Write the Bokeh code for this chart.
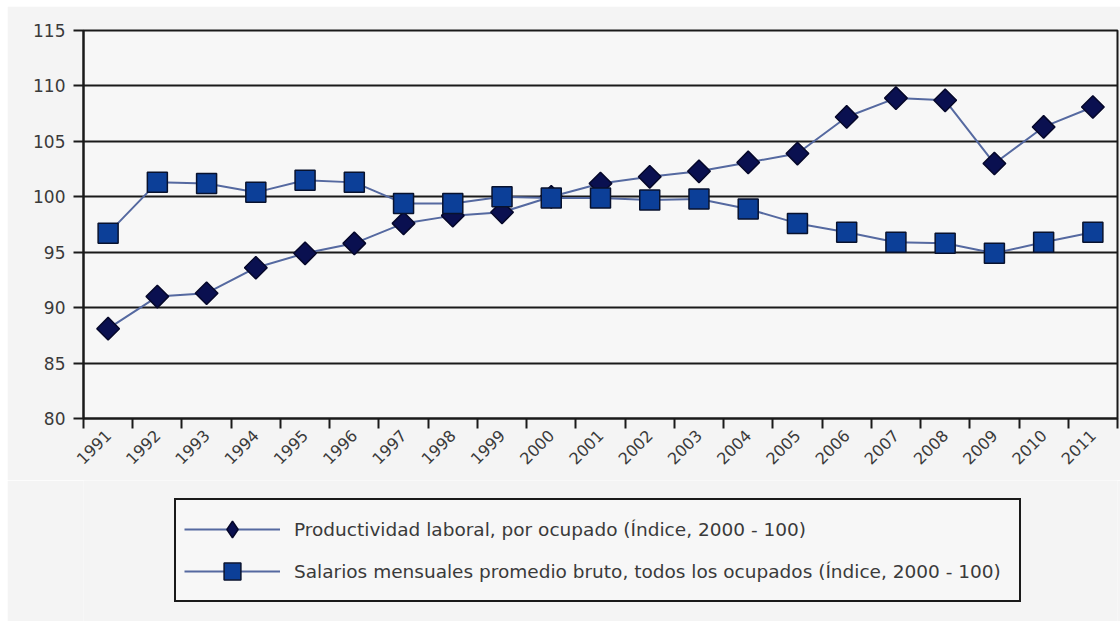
import numpy as np
from bokeh.plotting import figure
from bokeh.layouts import column
from bokeh.models import FixedTicker, Legend, LegendItem, Range1d
from bokeh.embed import file_html
from bokeh.resources import INLINE

# Index values, 2000 = 100
years = list(range(1991, 2012))
productividad = [88.1, 91.0, 91.3, 93.6, 94.9, 95.8, 97.6, 98.3, 98.6, 100.0, 101.2,
                 101.8, 102.3, 103.1, 103.9, 107.2, 108.9, 108.7, 103.0, 106.3, 108.1]
salarios = [96.7, 101.3, 101.2, 100.4, 101.5, 101.3, 99.4, 99.4, 100.0, 99.9, 99.9,
            99.7, 99.8, 98.9, 97.6, 96.8, 95.9, 95.8, 94.9, 95.9, 96.8]
y_ticks = [80, 85, 90, 95, 100, 105, 110, 115]

label_prod = "Productividad laboral, por ocupado (Índice, 2000 - 100)"
label_sal = "Salarios mensuales promedio bruto, todos los ocupados (Índice, 2000 - 100)"

FONT = "DejaVu Sans"
TEXT_COLOR = "#3a3a3a"
LINE_COLOR = "#5569a0"
BG = "#f4f4f4"
PROD_FILL = dict(fill_color="#0a1050", line_color="#05072a", line_width=1.5)
SAL_FILL = dict(fill_color="#0c3f98", line_color="#08122e", line_width=1.5)

p = figure(width=1113, height=474,
           x_range=(years[0] - 0.5, years[-1] + 0.5), y_range=(y_ticks[0], y_ticks[-1]),
           output_backend="svg", toolbar_location=None,
           min_border_left=76, min_border_right=3, min_border_top=24, min_border_bottom=62)
p.margin = (6, 0, 0, 7)
p.background_fill_color = "#f7f7f7"
p.border_fill_color = BG
p.outline_line_color = "#1a1a1a"
p.outline_line_width = 2

# x axis: year labels at category centres, tick marks between categories
xa = p.xaxis[0]
xa.ticker = FixedTicker(ticks=years, minor_ticks=[y - 0.5 for y in years] + [years[-1] + 0.5])
xa.major_tick_line_color = None
xa.minor_tick_line_color = "#1a1a1a"
xa.minor_tick_line_width = 2
xa.minor_tick_in = 0
xa.minor_tick_out = 10
xa.axis_line_color = "#1a1a1a"
xa.axis_line_width = 2
xa.major_label_orientation = np.pi / 4
xa.major_label_standoff = 4
xa.major_label_text_font = FONT
xa.major_label_text_font_size = "16px"
xa.major_label_text_color = TEXT_COLOR

ya = p.yaxis[0]
ya.ticker = FixedTicker(ticks=y_ticks)
ya.major_tick_line_color = "#1a1a1a"
ya.major_tick_line_width = 2
ya.major_tick_in = 0
ya.major_tick_out = 10
ya.minor_tick_line_color = None
ya.axis_line_color = "#1a1a1a"
ya.axis_line_width = 2
ya.major_label_standoff = 8
ya.major_label_text_font = FONT
ya.major_label_text_font_size = "17px"
ya.major_label_text_color = TEXT_COLOR

p.xgrid.grid_line_color = None
p.ygrid.ticker = FixedTicker(ticks=y_ticks)
p.ygrid.grid_line_color = "#1a1a1a"
p.ygrid.grid_line_width = 2

# Labour productivity: dark navy diamonds
p.line(years, productividad, line_color=LINE_COLOR, line_width=2)
p.scatter(years, productividad, marker="square", angle=np.pi / 4, size=16, **PROD_FILL)

# Gross monthly wages: blue squares
p.line(years, salarios, line_color=LINE_COLOR, line_width=2)
p.scatter(years, salarios, marker="square", size=20, **SAL_FILL)

# Legend panel underneath the chart. Its ranges keep the series out of view,
# so these renderers only supply the key glyphs.
lg = figure(width=1113, height=141, x_range=Range1d(0, 1), y_range=Range1d(0, 1),
            output_backend="svg", toolbar_location=None,
            min_border_left=0, min_border_right=0, min_border_top=0, min_border_bottom=0)
lg.margin = (0, 0, 0, 7)
lg.axis.visible = False
lg.grid.grid_line_color = None
lg.outline_line_color = None
lg.background_fill_color = BG
lg.border_fill_color = BG

k1l = lg.line(years, productividad, line_color=LINE_COLOR, line_width=2)
k1m = lg.scatter(years, productividad, marker="diamond", size=16, **PROD_FILL)
k2l = lg.line(years, salarios, line_color=LINE_COLOR, line_width=2)
k2m = lg.scatter(years, salarios, marker="square", size=20, **SAL_FILL)

legend = Legend(
    items=[LegendItem(label=label_prod, renderers=[k1l, k1m]),
           LegendItem(label=label_sal, renderers=[k2l, k2m])],
    location=(91, 19),
    border_line_color="#1a1a1a", border_line_width=2, border_line_alpha=1,
    background_fill_color="#f7f7f7", background_fill_alpha=1,
    label_text_font=FONT, label_text_font_size="18.5px", label_text_color=TEXT_COLOR,
    glyph_width=96, glyph_height=42, spacing=0, padding=8,
    label_standoff=14, label_width=717, margin=0,
)
lg.add_layout(legend)

layout = column(p, lg, spacing=0)
open("out.html", "w").write(file_html(layout, INLINE))
